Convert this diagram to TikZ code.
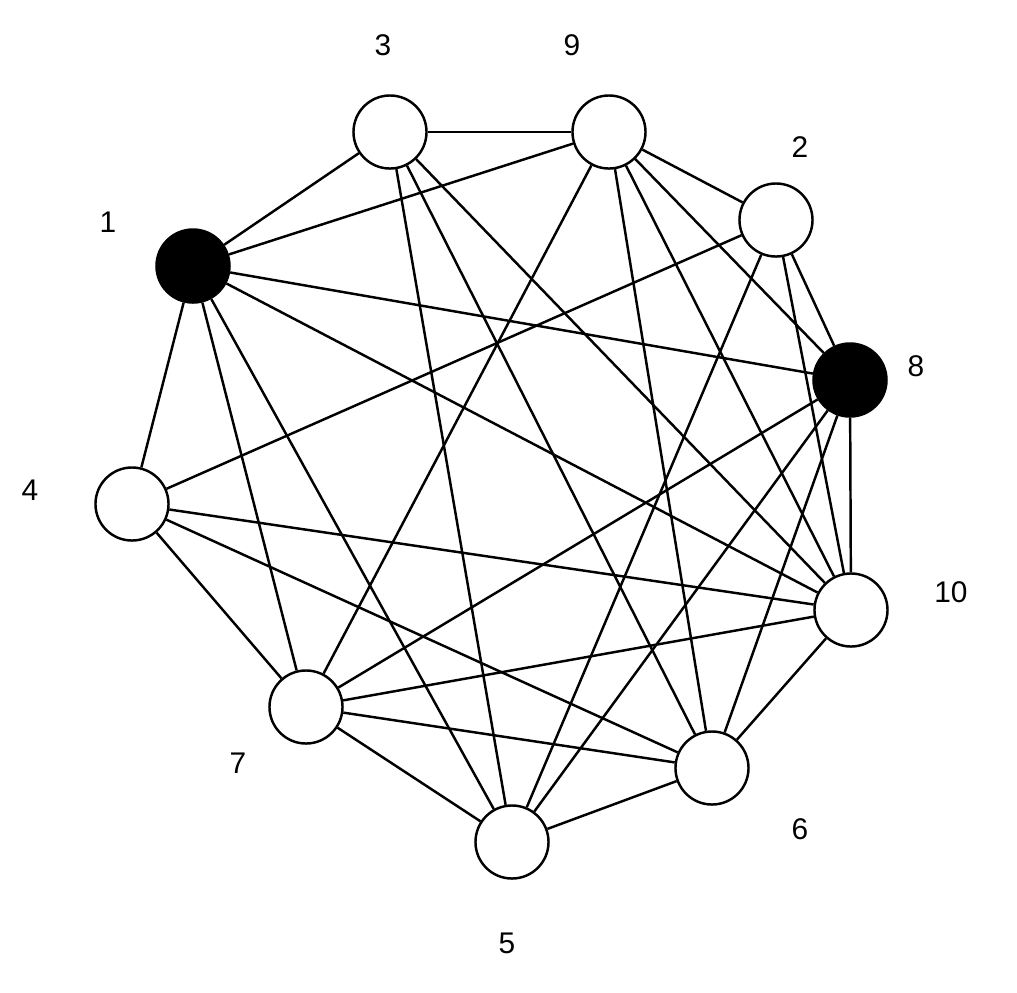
\documentclass[tikz,border=0pt]{standalone}
\usepackage{fontspec}
\setmainfont{Liberation Sans}
\begin{document}
\begin{tikzpicture}[x=0.01cm,y=-0.01cm,
  vtx/.style={circle,draw,line width=0.7pt,fill=white,minimum size=0.73cm,inner sep=0pt},
  blk/.style={vtx,fill=black},
  lbl/.style={font=\fontsize{8.5}{10}\selectfont,inner sep=0pt},
  edge/.style={line width=0.7pt}]
\useasboundingbox (0,0) rectangle (1017,993);
\node[blk] (1) at (193,266) {};
\node[vtx] (2) at (776,220) {};
\node[vtx] (3) at (390,132) {};
\node[vtx] (4) at (132,504) {};
\node[vtx] (5) at (512,842) {};
\node[vtx] (6) at (712,768) {};
\node[vtx] (7) at (306,707) {};
\node[blk] (8) at (850,380) {};
\node[vtx] (9) at (609,132) {};
\node[vtx] (10) at (851,610) {};
\begin{scope}[on background layer/.style={}]
\foreach \a/\b in {1/3,1/9,1/8,1/10,1/4,1/7,1/5,2/9,2/4,2/5,2/8,2/10,3/9,3/5,3/6,3/10,4/10,4/6,4/7,5/7,5/6,5/8,6/10,6/7,6/8,6/9,7/9,7/8,7/10,8/9,8/10,9/10}
  \draw[edge] (\a) -- (\b);
\end{scope}
\node[lbl] (l1) at (108,222) {1};
\node[lbl] (l2) at (800,147) {2};
\node[lbl] (l3) at (383,45) {3};
\node[lbl] (l4) at (30,490) {4};
\node[lbl] (l5) at (507,943) {5};
\node[lbl] (l6) at (800,829) {6};
\node[lbl] (l7) at (238,763) {7};
\node[lbl] (l8) at (916,366) {8};
\node[lbl] (l9) at (572,45) {9};
\node[lbl] (l10) at (951,592) {10};
\end{tikzpicture}
\end{document}
